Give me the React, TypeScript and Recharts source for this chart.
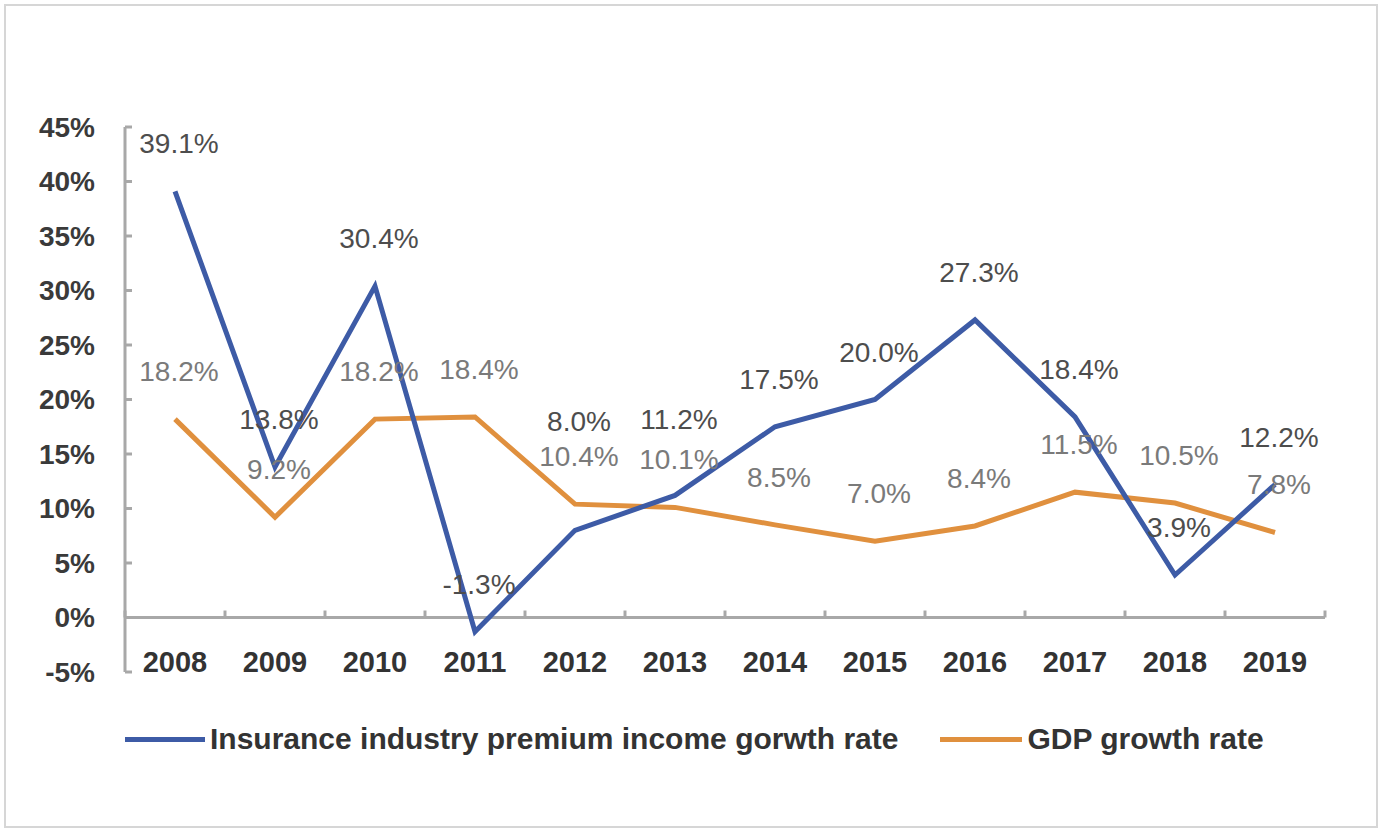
import React from "react";
import { LineChart, Line, XAxis, YAxis, ReferenceLine, LabelList } from "recharts";

const years = ["2008", "2009", "2010", "2011", "2012", "2013", "2014", "2015", "2016", "2017", "2018", "2019"];
const premiumGrowth = [39.1, 13.8, 30.4, -1.3, 8.0, 11.2, 17.5, 20.0, 27.3, 18.4, 3.9, 12.2];
const gdpGrowth = [18.2, 9.2, 18.2, 18.4, 10.4, 10.1, 8.5, 7.0, 8.4, 11.5, 10.5, 7.8];
const yTicks = [-5, 0, 5, 10, 15, 20, 25, 30, 35, 40, 45];

const premiumName = "Insurance industry premium income gorwth rate";
const gdpName = "GDP growth rate";

// how far above the point each label sits (a few were moved by hand in the original)
const premiumLabelLift = [38, 38, 38, 38, 99, 66, 38, 38, 38, 38, 38, 38];
const gdpLabelLift = 38;

const BLUE = "#3d5ba6";
const ORANGE = "#e0903e";
const AXIS = "#a8a8a8";
const FONT = "'Liberation Sans', Arial, sans-serif";

const W = 1384;
const H = 834;
const TOP = 127;
const LEFT = 45;
const Y_W = 80;
const RIGHT = 59;
const X_H = 30;
const PLOT_BOTTOM = 672;
const PLOT_H = PLOT_BOTTOM - TOP;
const ZERO_Y = TOP + (PLOT_H * 45) / 50;
const BAND = (W - LEFT - Y_W - RIGHT) / years.length;

const data = years.map((y, i) => ({ year: y, premium: premiumGrowth[i], gdp: gdpGrowth[i] }));

const YTick = (props: any) => {
  const { x, y, payload } = props;
  return (
    <g>
      <line x1={x} x2={x + 7} y1={y} y2={y} stroke={AXIS} strokeWidth={3} />
      <text x={x - 30} y={y} dy="0.35em" textAnchor="end" fill="#3a3a3a" fontSize={28} fontWeight="bold" fontFamily={FONT}>
        {payload.value}%
      </text>
    </g>
  );
};

const XTick = (props: any) => {
  const { x, payload, index } = props;
  return (
    <g>
      <line x1={x - BAND / 2} x2={x - BAND / 2} y1={ZERO_Y} y2={ZERO_Y - 7} stroke={AXIS} strokeWidth={3} />
      {index === years.length - 1 && (
        <line x1={x + BAND / 2} x2={x + BAND / 2} y1={ZERO_Y} y2={ZERO_Y - 7} stroke={AXIS} strokeWidth={3} />
      )}
      <text x={x} y={PLOT_BOTTOM} textAnchor="middle" fill="#333" fontSize={29} fontWeight="bold" fontFamily={FONT}>
        {payload.value}
      </text>
    </g>
  );
};

const makeLabel = (color: string, lift: (i: number) => number) => (props: any) => {
  const { x, y, value, index } = props;
  return (
    <text x={x + 4} y={y - lift(index)} textAnchor="middle" fill={color} fontSize={28} fontFamily={FONT}>
      {Number(value).toFixed(1)}%
    </text>
  );
};

const LegendItem = ({ color, name, lineW }: { color: string; name: string; lineW: number }) => (
  <div style={{ display: "flex", alignItems: "center" }}>
    <div style={{ width: lineW, height: 5, background: color }} />
    <span style={{ marginLeft: 5, fontSize: 30, fontWeight: "bold", color: "#333", fontFamily: FONT }}>{name}</span>
  </div>
);

const App: React.FC = () => {
  return (
    <div style={{ position: "fixed", left: 0, top: 0, width: W, height: H, background: "#fff" }}>
      <div
        style={{
          position: "absolute",
          left: 4,
          top: 4,
          width: 1370,
          height: 820,
          border: "2px solid #d6d6d6",
        }}
      />
      <div style={{ position: "absolute", left: 0, top: 0 }}>
        <LineChart width={W} height={H} data={data} margin={{ top: TOP, right: RIGHT, left: LEFT, bottom: H - PLOT_BOTTOM - X_H }}>
          <YAxis
            width={Y_W}
            domain={[-5, 45]}
            ticks={yTicks}
            interval={0}
            tick={<YTick />}
            tickLine={false}
            tickSize={0}
            tickMargin={0}
            axisLine={{ stroke: AXIS, strokeWidth: 3 }}
          />
          <XAxis
            dataKey="year"
            height={X_H}
            interval={0}
            padding={{ left: BAND / 2, right: BAND / 2 }}
            tick={<XTick />}
            tickLine={false}
            axisLine={false}
          />
          <ReferenceLine y={0} stroke={AXIS} strokeWidth={3} />
          <Line
            type="linear"
            dataKey="gdp"
            name={gdpName}
            stroke={ORANGE}
            strokeWidth={5}
            dot={false}
            isAnimationActive={false}
          >
            <LabelList dataKey="gdp" content={makeLabel("#7a7a7a", () => gdpLabelLift)} />
          </Line>
          <Line
            type="linear"
            dataKey="premium"
            name={premiumName}
            stroke={BLUE}
            strokeWidth={5}
            dot={false}
            isAnimationActive={false}
          >
            <LabelList dataKey="premium" content={makeLabel("#4d4d4d", (i) => premiumLabelLift[i])} />
          </Line>
        </LineChart>
      </div>
      <div style={{ position: "absolute", left: 125, top: 722, display: "flex", gap: 42 }}>
        <LegendItem color={BLUE} name={premiumName} lineW={80} />
        <LegendItem color={ORANGE} name={gdpName} lineW={82} />
      </div>
    </div>
  );
};

export default App;
